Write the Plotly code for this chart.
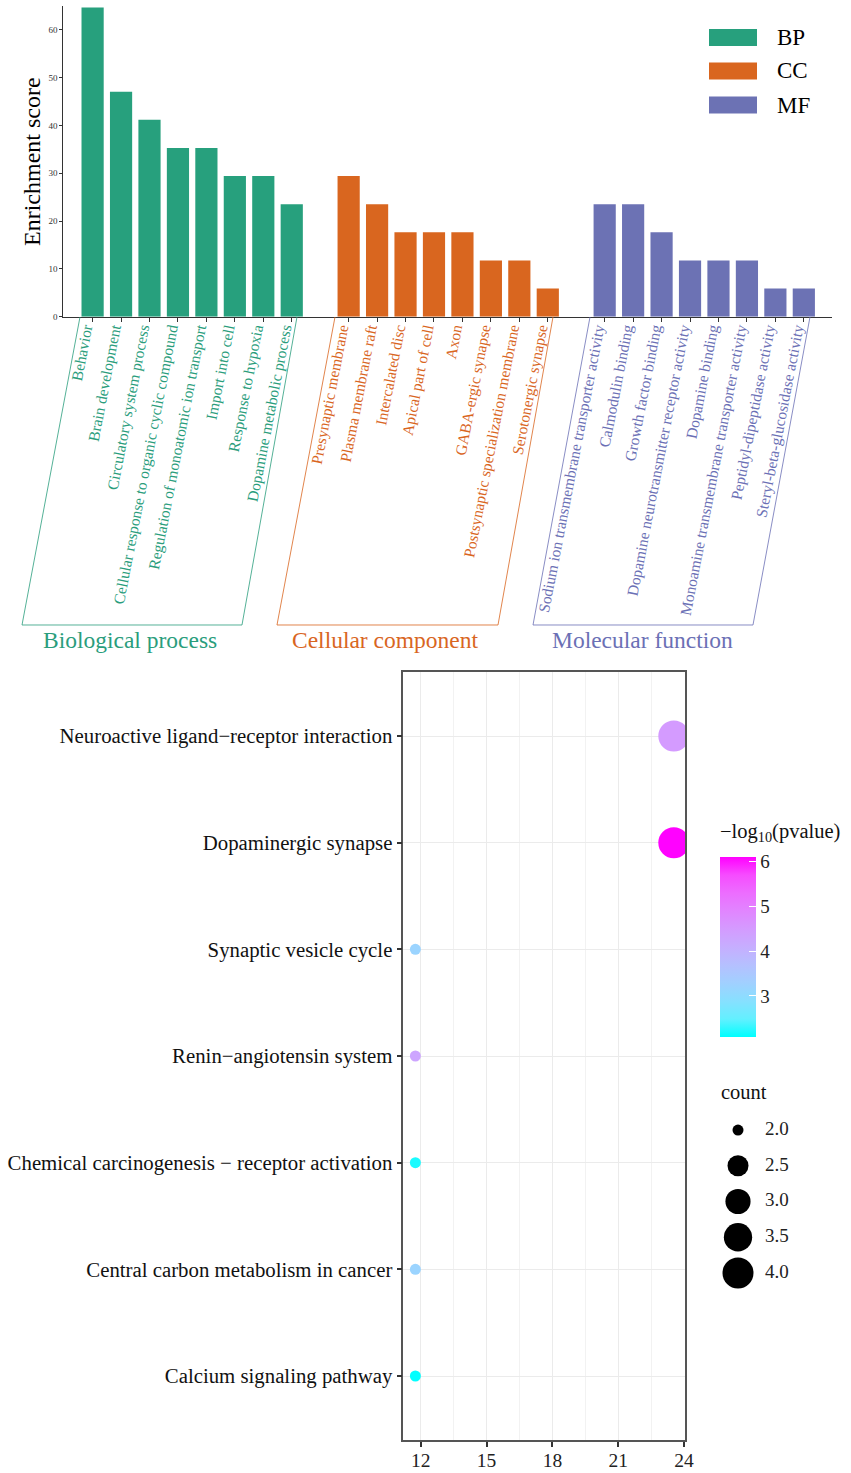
import plotly.graph_objects as go

# ---------------- data ----------------
bp_terms = ["Behavior", "Brain development", "Circulatory system process",
            "Cellular response to organic cyclic compound",
            "Regulation of monoatomic ion transport", "Import into cell",
            "Response to hypoxia", "Dopamine metabolic process"]
bp_scores = [64.7, 47.06, 41.18, 35.29, 35.29, 29.41, 29.41, 23.53]

cc_terms = ["Presynaptic membrane", "Plasma membrane raft", "Intercalated disc",
            "Apical part of cell", "Axon", "GABA-ergic synapse",
            "Postsynaptic specialization membrane", "Serotonergic synapse"]
cc_scores = [29.41, 23.53, 17.65, 17.65, 17.65, 11.76, 11.76, 5.88]

mf_terms = ["Sodium ion transmembrane transporter activity", "Calmodulin binding",
            "Growth factor binding", "Dopamine neurotransmitter receptor activity",
            "Dopamine binding", "Monoamine transmembrane transporter activity",
            "Peptidyl-dipeptidase activity", "Steryl-beta-glucosidase activity"]
mf_scores = [23.53, 23.53, 17.65, 11.76, 11.76, 11.76, 5.88, 5.88]

group_codes = ["BP", "CC", "MF"]
group_names = ["Biological process", "Cellular component", "Molecular function"]
y_ticks_top = [0, 10, 20, 30, 40, 50, 60]

kegg_terms = ["Neuroactive ligand\u2212receptor interaction", "Dopaminergic synapse",
              "Synaptic vesicle cycle", "Renin\u2212angiotensin system",
              "Chemical carcinogenesis \u2212 receptor activation",
              "Central carbon metabolism in cancer", "Calcium signaling pathway"]
kegg_ratio = [23.53, 23.53, 11.76, 11.76, 11.76, 11.76, 11.76]
kegg_logp = [4.5, 6.1, 3.2, 4.3, 2.2, 3.2, 2.1]
kegg_count = [4, 4, 2, 2, 2, 2, 2]
x_ticks_bottom = [12, 15, 18, 21, 24]
color_ticks = [3, 4, 5, 6]
size_legend_counts = [2.0, 2.5, 3.0, 3.5, 4.0]

# ---------------- styles ----------------
W, H = 851, 1473
FONT = "Liberation Serif"
bar_colors = ["#27A07D", "#D9661F", "#6C72B4"]
text_colors = ["#2A9D7C", "#D9661F", "#6B70B5"]
LABEL_SHIFT = -0.27   # horizontal nudge of rotated tick labels (in slot units)


def px(x):
    return x / W


def py(y):
    return 1 - y / H


def hex2rgb(h):
    h = h.lstrip('#')
    return [int(h[i:i + 2], 16) for i in (0, 2, 4)]


def to_lab(rgb):
    def lin(c):
        c = c / 255
        return c / 12.92 if c <= 0.04045 else ((c + 0.055) / 1.055) ** 2.4
    r, g, b = [lin(c) for c in rgb]
    X = 0.4124 * r + 0.3576 * g + 0.1805 * b
    Y = 0.2126 * r + 0.7152 * g + 0.0722 * b
    Z = 0.0193 * r + 0.1192 * g + 0.9505 * b
    Xn, Yn, Zn = 0.95047, 1.0, 1.08883

    def f(t):
        return t ** (1 / 3) if t > 0.008856 else 7.787 * t + 16 / 116
    fx, fy, fz = f(X / Xn), f(Y / Yn), f(Z / Zn)
    return (116 * fy - 16, 500 * (fx - fy), 200 * (fy - fz))


def from_lab(lab):
    L, a, b = lab
    fy = (L + 16) / 116
    fx = fy + a / 500
    fz = fy - b / 200

    def finv(t):
        return t ** 3 if t ** 3 > 0.008856 else (t - 16 / 116) / 7.787
    X, Y, Z = 0.95047 * finv(fx), finv(fy), 1.08883 * finv(fz)
    r = 3.2406 * X - 1.5372 * Y - 0.4986 * Z
    g = -0.9689 * X + 1.8758 * Y + 0.0415 * Z
    bb = 0.0557 * X - 0.2040 * Y + 1.0570 * Z

    def gam(c):
        c = c * 12.92 if c <= 0.0031308 else 1.055 * c ** (1 / 2.4) - 0.055
        return int(round(min(max(c, 0), 1) * 255))
    return "rgb(%d,%d,%d)" % (gam(r), gam(g), gam(bb))


lo, hi = to_lab(hex2rgb("#00FFFF")), to_lab(hex2rgb("#FF00FF"))
colorscale = []
for k in range(11):
    t = k / 10
    colorscale.append([t, from_lab(tuple(lo[j] + (hi[j] - lo[j]) * t for j in range(3)))])

CMIN, CMAX = 2.09, 6.11


def size_px(c):
    return 11 + 20 * ((c - 2) / 2) ** 0.5


fig = go.Figure()

# ---------------- top bar chart ----------------
groups = [(bp_terms, bp_scores), (cc_terms, cc_scores), (mf_terms, mf_scores)]
tickvals, ticktext = [], []
for g, (terms, scores) in enumerate(groups):
    xs = [g * (len(terms) + 1) + i for i in range(len(terms))]
    fig.add_trace(go.Bar(x=xs, y=scores, name=group_codes[g], width=0.78,
                         marker=dict(color=bar_colors[g], line=dict(width=0)),
                         showlegend=False, xaxis="x", yaxis="y"))
    tickvals += xs
    ticktext += ['<span style="color:%s">%s</span>' % (text_colors[g], t) for t in terms]

n_slots = 3 * 9 - 1
x_range_top = [-1.03, n_slots - 0.02]
top_domain = [px(63.3), px(831.7)]

# invisible carrier trace so the label-only overlay axis is drawn
fig.add_trace(go.Scatter(x=x_range_top, y=[0, 0], mode="markers",
                         marker=dict(opacity=0, size=1), showlegend=False,
                         hoverinfo="skip", xaxis="x4", yaxis="y"))

fig.update_layout(
    xaxis=dict(domain=top_domain, range=x_range_top, tickvals=tickvals,
               showticklabels=False, showline=True, linecolor="#333333",
               linewidth=1, ticks="outside", ticklen=4, tickcolor="#333333",
               showgrid=False, zeroline=False, anchor="y", automargin=False),
    xaxis4=dict(domain=top_domain, range=x_range_top, overlaying="x",
                tickvals=[v + LABEL_SHIFT for v in tickvals], ticktext=ticktext,
                tickangle=-79, ticks="", showline=False, showgrid=False,
                zeroline=False, tickfont=dict(family=FONT, size=15.5),
                ticklabelstandoff=-1, side="bottom", anchor="y", automargin=False),
    yaxis=dict(domain=[py(316.7), py(6)], range=[0, 65], tickvals=y_ticks_top,
               showline=True, linecolor="#333333", linewidth=1, ticks="outside",
               ticklen=3, tickcolor="#333333",
               tickfont=dict(family=FONT, size=9, color="#333333"),
               showgrid=False, zeroline=False, anchor="x", automargin=False),
)

shapes = []
annotations = []
para = [[(80, 317), (22, 625), (242, 625), (297, 317)],
        [(335, 317), (277, 625), (498, 625), (553, 317)],
        [(590, 317), (533, 625), (753, 625), (810, 317)]]
label_cx = [130, 385, 642]
for g in range(3):
    pts = para[g]
    path = "M %f %f " % (px(pts[0][0]), py(pts[0][1])) + " ".join(
        "L %f %f" % (px(x), py(y)) for x, y in pts[1:])
    shapes.append(dict(type="path", xref="paper", yref="paper", path=path,
                       line=dict(color=text_colors[g], width=0.8)))
    annotations.append(dict(x=px(label_cx[g]), y=py(640), xref="paper", yref="paper",
                            text=group_names[g], showarrow=False,
                            font=dict(family=FONT, size=23.5, color=text_colors[g]),
                            xanchor="center", yanchor="middle"))

# manual legend (top right)
leg_y = [37.5, 71, 105]
for g in range(3):
    shapes.append(dict(type="rect", xref="paper", yref="paper",
                       x0=px(709), x1=px(757), y0=py(leg_y[g] - 8.5), y1=py(leg_y[g] + 8.5),
                       fillcolor=bar_colors[g], line=dict(width=0)))
    annotations.append(dict(x=px(775), y=py(leg_y[g]), xref="paper", yref="paper",
                            text=group_codes[g], showarrow=False, xanchor="left",
                            yanchor="middle", font=dict(family=FONT, size=23, color="black")))

annotations.append(dict(x=px(32), y=py(162), xref="paper", yref="paper",
                        text="Enrichment score", showarrow=False, textangle=-90,
                        font=dict(family=FONT, size=24, color="black"),
                        xanchor="center", yanchor="middle"))

# ---------------- bottom dot plot ----------------
fig.add_trace(go.Scatter(
    x=kegg_ratio, y=list(range(len(kegg_terms))), mode="markers",
    marker=dict(size=[size_px(c) for c in kegg_count], color=kegg_logp,
                colorscale=colorscale, cmin=CMIN, cmax=CMAX, line=dict(width=0),
                opacity=1, showscale=True,
                colorbar=dict(x=px(720), xanchor="left", y=py(946.7), yanchor="middle",
                              len=180, lenmode="pixels", thickness=36,
                              thicknessmode="pixels", outlinewidth=0, tickvals=color_ticks,
                              ticks="inside", ticklen=7, tickcolor="white",
                              tickprefix="\u00a0",
                              tickfont=dict(family=FONT, size=19, color="#222222"),
                              xpad=0, ypad=0)),
    cliponaxis=True, showlegend=False, xaxis="x2", yaxis="y2"))

fig.update_layout(
    xaxis2=dict(domain=[px(403.3), px(685)], range=[11.21, 24.04], tickvals=x_ticks_bottom,
                showline=True, mirror=True, linecolor="#555555", linewidth=1.5,
                ticks="outside", ticklen=5, tickcolor="#333333", tickwidth=1.5,
                tickfont=dict(family=FONT, size=19.5, color="#222222"),
                ticklabelstandoff=-3,
                showgrid=True, gridcolor="#EBEBEB", gridwidth=1.2, zeroline=False,
                minor=dict(dtick=1.5, tick0=10.5, showgrid=True, gridcolor="#F2F2F2",
                           gridwidth=0.7),
                anchor="y2", automargin=False),
    yaxis2=dict(domain=[py(1440), py(672)], range=[6.6, -0.6],
                tickvals=list(range(len(kegg_terms))), ticktext=kegg_terms,
                showline=True, mirror=True, linecolor="#555555", linewidth=1.5,
                ticks="outside", ticklen=5, tickcolor="#333333", tickwidth=1.5,
                tickfont=dict(family=FONT, size=20.8, color="#111111"),
                showgrid=True, gridcolor="#EBEBEB", gridwidth=1.2, zeroline=False,
                anchor="x2", automargin=False),
)

annotations.append(dict(x=px(718), y=py(833), xref="paper", yref="paper",
                        text="\u2212log<sub>10</sub>(pvalue)", showarrow=False,
                        xanchor="left", yanchor="middle",
                        font=dict(family=FONT, size=20.5, color="#111111")))

# ---------------- size legend ----------------
idx = list(range(len(size_legend_counts)))
fig.add_trace(go.Scatter(
    x=[738] * len(idx), y=idx, mode="markers",
    marker=dict(size=[size_px(c) for c in size_legend_counts], color="#000000",
                opacity=1, line=dict(width=0)),
    showlegend=False, xaxis="x3", yaxis="y3", cliponaxis=False, hoverinfo="skip"))
fig.add_trace(go.Scatter(
    x=[765] * len(idx), y=idx, mode="text",
    text=["%.1f" % c for c in size_legend_counts], textposition="middle right",
    textfont=dict(family=FONT, size=19, color="#222222"),
    showlegend=False, xaxis="x3", yaxis="y3", cliponaxis=False, hoverinfo="skip"))
fig.update_layout(
    xaxis3=dict(domain=[px(700), px(840)], range=[700, 840], visible=False, anchor="y3",
                automargin=False),
    yaxis3=dict(domain=[py(1290), py(1110)], range=[4.476, -0.56], visible=False,
                anchor="x3", automargin=False),
)
annotations.append(dict(x=px(719), y=py(1092), xref="paper", yref="paper",
                        text="count", showarrow=False, xanchor="left", yanchor="middle",
                        font=dict(family=FONT, size=20.5, color="#111111")))

fig.update_layout(
    width=W, height=H, autosize=False,
    margin=dict(l=0, r=0, t=0, b=0, autoexpand=False),
    paper_bgcolor="white", plot_bgcolor="white",
    shapes=shapes, annotations=annotations, showlegend=False,
    font=dict(family=FONT),
)

fig.write_html("out.html", config={"displayModeBar": False},
               post_script="document.body.style.margin='0';"
                           "document.body.style.overflow='hidden';")
